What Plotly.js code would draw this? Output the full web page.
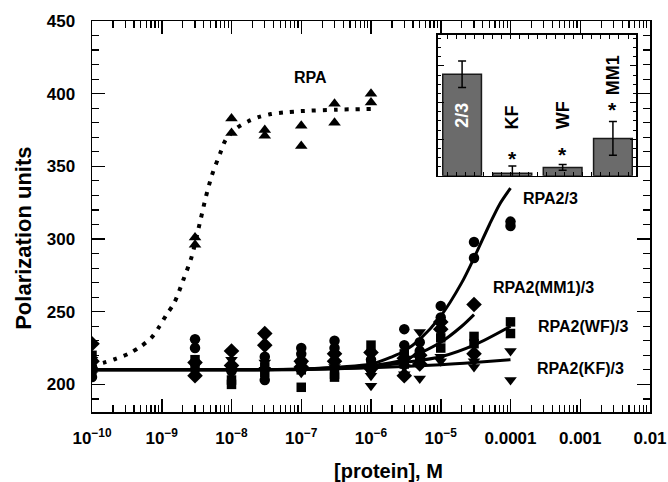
<!DOCTYPE html>
<html>
<head>
<meta charset="utf-8">
<script src="https://cdn.plot.ly/plotly-3.0.1.min.js"></script>
<style>html,body{margin:0;padding:0;background:#fff;}#chart{width:668px;height:482px;}</style>
</head>
<body>
<div id="chart"></div>
<script>
// ---------- data ----------
// RPA (triangles up)
const rpaX = [1e-10,1e-10,3e-9,3e-9,1e-8,1e-8,3e-8,3e-8,1e-7,1e-7,3e-7,3e-7,1e-6,1e-6];
const rpaY = [213,210,301,296,383,373,375,371,378,364,393,380,400,394];
// RPA2/3 (circles)
const r23X = [1e-10,1e-10,3e-9,3e-9,1e-8,1e-8,3e-8,3e-8,1e-7,1e-7,3e-7,3e-7,1e-6,1e-6,3e-6,3e-6,5e-6,5e-6,1e-5,1e-5,3e-5,3e-5,1e-4,1e-4];
const r23Y = [205,212,231,225,212,209,203,219,225,221,230,225,217,210,238,227,229,223,254,246,298,287,312,309];
// RPA2(MM1)/3 (diamonds)
const mm1X = [1e-10,1e-10,3e-9,3e-9,1e-8,1e-8,3e-8,3e-8,1e-7,1e-7,3e-7,3e-7,1e-6,1e-6,3e-6,3e-6,5e-6,5e-6,1e-5,1e-5,3e-5,3e-5];
const mm1Y = [228,216,206,215,223,213,235,227,216,212,221,216,222,211,206,218,220,214,243,238,255,221];
// RPA2(WF)/3 (squares)
const wfX = [1e-10,1e-10,3e-9,3e-9,1e-8,1e-8,3e-8,3e-8,1e-7,1e-7,3e-7,3e-7,1e-6,1e-6,3e-6,3e-6,5e-6,5e-6,1e-5,1e-5,3e-5,3e-5,1e-4,1e-4];
const wfY = [220,210,217,212,203,200,212,208,198,210,205,207,227,214,221,214,218,216,232,225,233,228,243,235];
// RPA2(KF)/3 (triangles down)
const kfX = [1e-10,1e-10,3e-9,3e-9,1e-8,1e-8,3e-8,3e-8,1e-7,1e-7,3e-7,3e-7,1e-6,1e-6,3e-6,3e-6,5e-6,5e-6,1e-5,1e-5,3e-5,3e-5,1e-4,1e-4];
const kfY = [217,208,213,209,217,208,215,210,213,208,212,210,199,206,212,207,236,204,216,219,216,212,223,203];

// fitted curves
const rpaFitX = [1e-10,1.48e-10,2.19e-10,3.31e-10,4.9e-10,7.08e-10,9.3e-10,1.17e-9,1.51e-9,2.04e-9,2.69e-9,3.55e-9,4.27e-9,5.25e-9,7.08e-9,8.3e-9,1.2e-8,1.74e-8,2.5e-8,3.7e-8,5.5e-8,1e-7,3.2e-7,1e-6];
const rpaFitY = [213,215,217.6,221,225.8,232,240,248,256,272,288,312,328.5,344,360.5,368.5,376.5,381,384,386,387,388,389,389.5];
const r23FitX = [1e-10,1e-8,1e-7,1e-6,2e-6,3e-6,5e-6,1e-5,2e-5,3e-5,5e-5,7e-5,1e-4];
const r23FitY = [210,210,210.5,214,219,223,231,247,270,287,310,324,335];
const mm1FitX = [1e-10,1e-8,1e-7,1e-6,3e-6,1e-5,2e-5,3e-5];
const mm1FitY = [210,210,210.5,213,217,229,240,248];
const wfFitX = [1e-10,1e-8,1e-7,1e-6,3e-6,1e-5,3e-5,1e-4];
const wfFitY = [210,210,210.3,212,215,219,227,240];
const kfFitX = [1e-10,1e-8,1e-7,1e-6,1e-5,3e-5,1e-4];
const kfFitY = [210,210,210.2,211.5,213.5,215,217];

// inset bar chart
const insetLabels = ['2/3','KF','WF','MM1'];
const insetValues = [2.77,0.07,0.23,1.02];
const insetErr = [0.36,0.2,0.08,0.46];

// axis ticks and titles
const xTickVals = [1e-10,1e-9,1e-8,1e-7,1e-6,1e-5,1e-4,1e-3,1e-2];
const xTickText = ['10<sup>\u221210</sup>','10<sup>\u22129</sup>','10<sup>\u22128</sup>','10<sup>\u22127</sup>','10<sup>\u22126</sup>','10<sup>\u22125</sup>','0.0001','0.001','0.01'];
const xTitle = '[protein], M';
const yTitle = 'Polarization units';

// ---------- build ----------
const minorX = [];
for (let e = -10; e < -2; e++) for (let k = 2; k <= 9; k++) minorX.push(k * Math.pow(10, e));

const FONT = 'Liberation Sans, Arial, Helvetica, sans-serif';
const bold = (s) => ({family: FONT, size: s, color: '#000', weight: 'bold'});

function pts(x, y, symbol, size) {
  return {x, y, type: 'scatter', mode: 'markers', xaxis: 'x', yaxis: 'y',
    marker: {symbol, size, color: '#000', line: {width: 0}}, hoverinfo: 'skip'};
}
function fit(x, y, dash) {
  return {x, y, type: 'scatter', mode: 'lines', xaxis: 'x', yaxis: 'y',
    line: {color: '#000', width: dash ? 4 : 3, dash: dash || 'solid', shape: 'spline', smoothing: 0.8},
    hoverinfo: 'skip'};
}

const traces = [
  fit(rpaFitX, rpaFitY, '4px,7px'),
  fit(r23FitX, r23FitY),
  fit(mm1FitX, mm1FitY),
  fit(wfFitX, wfFitY),
  fit(kfFitX, kfFitY),
  pts(rpaX, rpaY, 'triangle-up', 11),
  pts(r23X, r23Y, 'circle', 10.5),
  pts(mm1X, mm1Y, 'diamond', 12),
  pts(wfX, wfY, 'square', 9.5),
  pts(kfX, kfY, 'triangle-down', 11),
  {x: insetLabels.map((_, i) => i), y: insetValues, type: 'bar', xaxis: 'x2', yaxis: 'y2',
   width: 0.77, marker: {color: '#6b6b6b', line: {color: '#1a1a1a', width: 1.5}},
   error_y: {type: 'data', array: insetErr, color: '#000', thickness: 1.5, width: 4},
   hoverinfo: 'skip'}
];

const annotations = [
  {text: xTitle, x: 0.532, y: -0.152, xref: 'paper', yref: 'paper', xanchor: 'center', yanchor: 'middle',
   showarrow: false, font: bold(20)},
  {text: yTitle, x: -0.124, y: 0.445, xref: 'paper', yref: 'paper', xanchor: 'center', yanchor: 'middle',
   textangle: -90, showarrow: false, font: bold(22)},
  {text: 'RPA', x: -6.87, y: 411, xref: 'x', yref: 'y', showarrow: false, font: bold(16)},
  {text: 'RPA2/3', x: -3.42, y: 328, xref: 'x', yref: 'y', showarrow: false, font: bold(16)},
  {text: 'RPA2(MM1)/3', x: -3.52, y: 266.4, xref: 'x', yref: 'y', showarrow: false, font: bold(16)},
  {text: 'RPA2(WF)/3', x: -2.96, y: 239.7, xref: 'x', yref: 'y', showarrow: false, font: bold(16)},
  {text: 'RPA2(KF)/3', x: -2.99, y: 211, xref: 'x', yref: 'y', showarrow: false, font: bold(16)},
  {text: insetLabels[0], x: 0, y: 1.64, xref: 'x2', yref: 'y2', showarrow: false, textangle: -90,
   font: {family: FONT, size: 18, color: '#fff', weight: 'bold'}},
  {text: insetLabels[1], x: 1, y: 1.60, xref: 'x2', yref: 'y2', showarrow: false, textangle: -90, font: bold(18)},
  {text: insetLabels[2], x: 2, y: 1.64, xref: 'x2', yref: 'y2', showarrow: false, textangle: -90, font: bold(18)},
  {text: insetLabels[3], x: 3, y: 2.74, xref: 'x2', yref: 'y2', showarrow: false, textangle: -90, font: bold(18)},
  {text: '*', x: 1, y: 0.48, xref: 'x2', yref: 'y2', showarrow: false, font: bold(21)},
  {text: '*', x: 2, y: 0.59, xref: 'x2', yref: 'y2', showarrow: false, font: bold(21)},
  {text: '*', x: 3, y: 1.80, xref: 'x2', yref: 'y2', showarrow: false, font: bold(21)}
];

const layout = {
  width: 668, height: 482,
  margin: {l: 92, r: 18, t: 21, b: 70, pad: 0},
  paper_bgcolor: '#fff', plot_bgcolor: '#fff',
  showlegend: false,
  font: {family: FONT, color: '#000'},
  xaxis: {
    type: 'log', range: [-10, -2], domain: [0, 1],
    tickmode: 'array', tickvals: xTickVals, ticktext: xTickText,
    ticks: 'inside', ticklen: 13, tickwidth: 1.5, tickcolor: '#000',
    minor: {tickmode: 'array', tickvals: minorX, ticks: 'inside', ticklen: 7, tickwidth: 1.2, tickcolor: '#000'},
    showline: true, linecolor: '#000', linewidth: 1.5, mirror: 'ticks',
    showgrid: false, zeroline: false,
    tickfont: bold(17), ticklabelstandoff: 10
  },
  yaxis: {
    range: [181, 450], domain: [0, 1],
    tickmode: 'linear', tick0: 0, dtick: 50,
    ticks: 'inside', ticklen: 13, tickwidth: 1.5, tickcolor: '#000',
    minor: {dtick: 10, tick0: 0, ticks: 'inside', ticklen: 7, tickwidth: 1.2, tickcolor: '#000'},
    showline: true, linecolor: '#000', linewidth: 1.5, mirror: 'ticks',
    showgrid: false, zeroline: false,
    tickfont: bold(17), ticklabelstandoff: 12
  },
  xaxis2: {
    domain: [0.620, 0.975], anchor: 'y2', range: [-0.48, 3.46],
    tickmode: 'linear', tick0: -0.48, dtick: 0.18,
    ticks: 'inside', ticklen: 4, tickwidth: 1, tickcolor: '#000',
    showticklabels: false, showline: true, linecolor: '#000', linewidth: 1.5, mirror: 'ticks',
    showgrid: false, zeroline: false
  },
  yaxis2: {
    domain: [0.604, 0.965], anchor: 'x2', range: [0, 3.85],
    tickmode: 'linear', tick0: 0, dtick: 1,
    ticks: 'inside', ticklen: 6, tickwidth: 1, tickcolor: '#000',
    minor: {dtick: 0.25, tick0: 0, ticks: 'inside', ticklen: 3, tickwidth: 1, tickcolor: '#000'},
    showticklabels: false, showline: true, linecolor: '#000', linewidth: 1.5, mirror: 'ticks',
    showgrid: false, zeroline: false
  },
  annotations
};

Plotly.newPlot('chart', traces, layout, {staticPlot: true, displayModeBar: false});
</script>
</body>
</html>
